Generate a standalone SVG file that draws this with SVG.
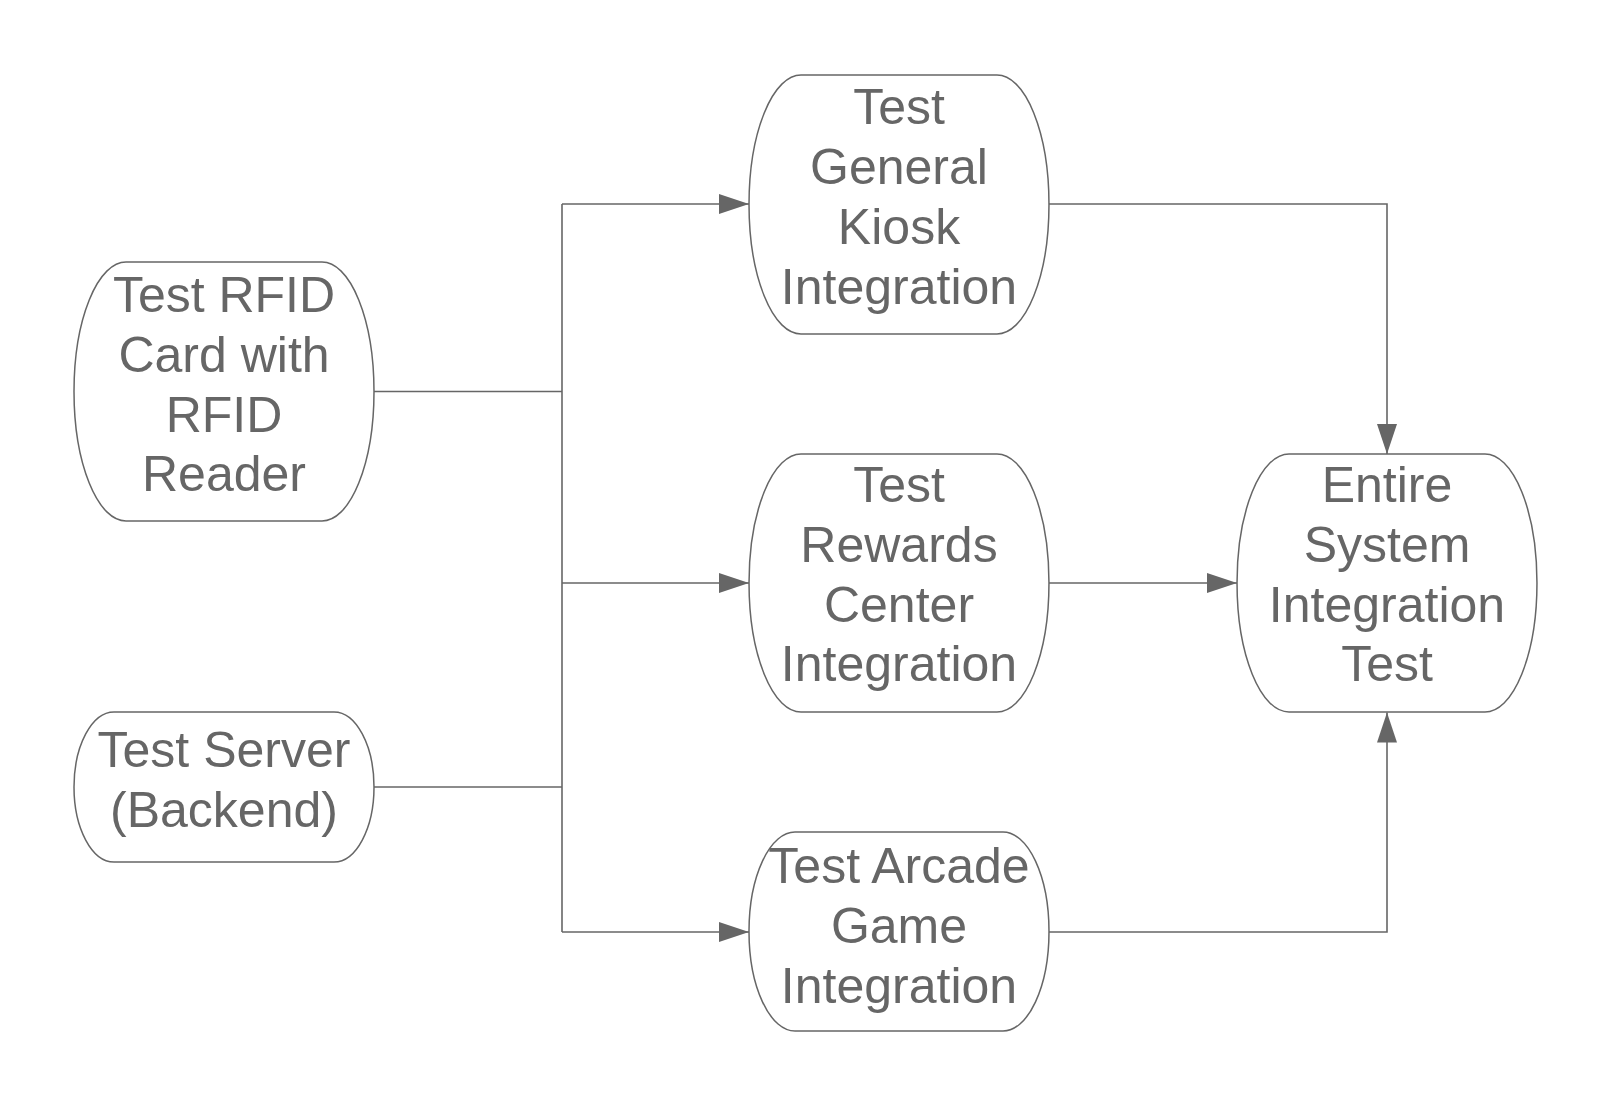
<svg xmlns="http://www.w3.org/2000/svg" width="1613" height="1106" viewBox="0 0 1613 1106">
<defs>
<style>
.node{fill:#ffffff;stroke:#666666;stroke-width:1.5}
.lbl{font-family:"Liberation Sans",Arial,sans-serif;font-size:50px;fill:#666666;text-anchor:middle}
.edge{fill:none;stroke:#666666;stroke-width:1.6}
</style>
<marker id="arr" markerUnits="userSpaceOnUse" markerWidth="31" markerHeight="21" refX="30" refY="10" orient="auto">
<path d="M0,0 L30,10 L0,20 Z" fill="#666666"/>
</marker>
</defs>
<rect width="1613" height="1106" fill="#ffffff"/>
<g id="connectors">
<path class="edge" d="M374,391.5 H562"/>
<path class="edge" d="M374,787 H562"/>
<path class="edge" d="M562,204 V932"/>
<path class="edge" d="M562,204 H749" marker-end="url(#arr)"/>
<path class="edge" d="M562,583 H749" marker-end="url(#arr)"/>
<path class="edge" d="M562,932 H749" marker-end="url(#arr)"/>
<path class="edge" d="M1049,204 H1387 V454" marker-end="url(#arr)"/>
<path class="edge" d="M1049,583 H1237" marker-end="url(#arr)"/>
<path class="edge" d="M1049,932 H1387 V712.5" marker-end="url(#arr)"/>
</g>
<g id="node-rfid">
<path class="node" d="M126,262 H322 A52,129.5 0 0 1 322,521 H126 A52,129.5 0 0 1 126,262 Z"/>
<text class="lbl" x="224" y="312">Test RFID</text>
<text class="lbl" x="224" y="372">Card with</text>
<text class="lbl" x="224" y="432">RFID</text>
<text class="lbl" x="224" y="491">Reader</text>
</g>
<g id="node-server">
<path class="node" d="M114,712 H334 A40,75 0 0 1 334,862 H114 A40,75 0 0 1 114,712 Z"/>
<text class="lbl" x="224" y="767">Test Server</text>
<text class="lbl" x="224" y="827">(Backend)</text>
</g>
<g id="node-kiosk">
<path class="node" d="M801,75 H997 A52,129.5 0 0 1 997,334 H801 A52,129.5 0 0 1 801,75 Z"/>
<text class="lbl" x="899" y="123.5">Test</text>
<text class="lbl" x="899" y="183.5">General</text>
<text class="lbl" x="899" y="243.5">Kiosk</text>
<text class="lbl" x="899" y="303.5">Integration</text>
</g>
<g id="node-rewards">
<path class="node" d="M801,454 H997 A52,129 0 0 1 997,712 H801 A52,129 0 0 1 801,454 Z"/>
<text class="lbl" x="899" y="502">Test</text>
<text class="lbl" x="899" y="562">Rewards</text>
<text class="lbl" x="899" y="622">Center</text>
<text class="lbl" x="899" y="681">Integration</text>
</g>
<g id="node-arcade">
<path class="node" d="M795,832 H1003 A46,99.5 0 0 1 1003,1031 H795 A46,99.5 0 0 1 795,832 Z"/>
<text class="lbl" x="899" y="883">Test Arcade</text>
<text class="lbl" x="899" y="943">Game</text>
<text class="lbl" x="899" y="1003">Integration</text>
</g>
<g id="node-entire">
<path class="node" d="M1289,454 H1485 A52,129 0 0 1 1485,712 H1289 A52,129 0 0 1 1289,454 Z"/>
<text class="lbl" x="1387" y="502">Entire</text>
<text class="lbl" x="1387" y="562">System</text>
<text class="lbl" x="1387" y="622">Integration</text>
<text class="lbl" x="1387" y="681">Test</text>
</g>
</svg>
